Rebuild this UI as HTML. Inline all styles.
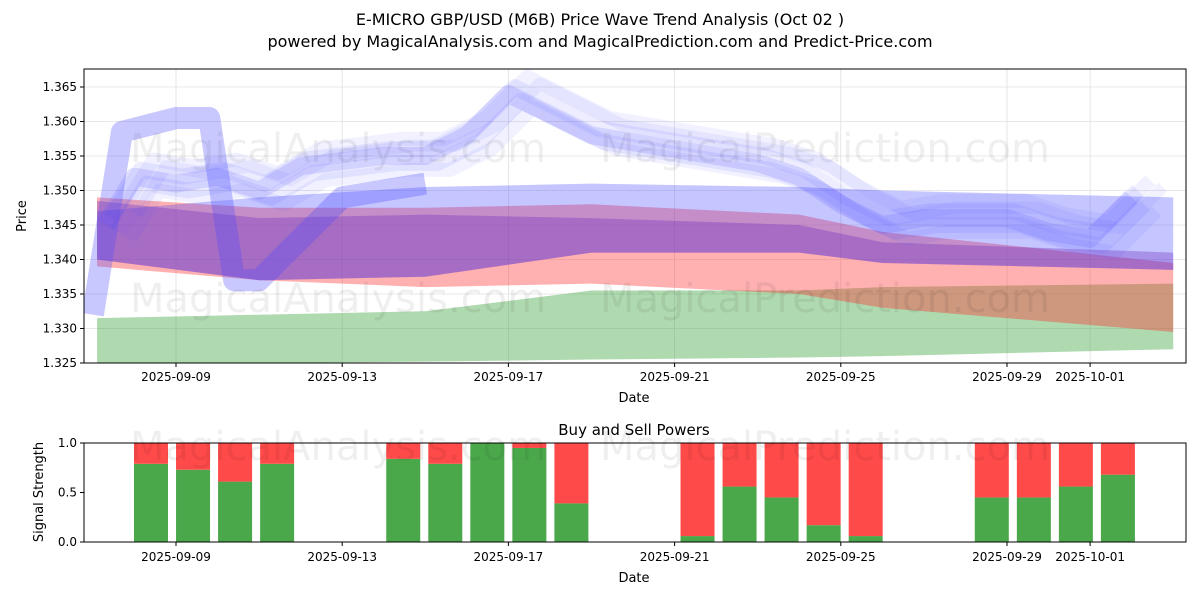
<!DOCTYPE html>
<html><head><meta charset="utf-8"><style>
body{margin:0;background:#fff;font-family:"Liberation Sans","DejaVu Sans",sans-serif}
svg text{font-family:"DejaVu Sans","Liberation Sans",sans-serif}
</style></head><body>
<svg id="s" width="1200" height="600" xmlns="http://www.w3.org/2000/svg">
<rect width="1200" height="600" fill="#fff"/>
<text x="600" y="25" text-anchor="middle" font-size="16">E-MICRO GBP/USD (M6B) Price Wave Trend Analysis (Oct 02 )</text>
<text x="600" y="47" text-anchor="middle" font-size="16">powered by MagicalAnalysis.com and MagicalPrediction.com and Predict-Price.com</text>
<defs><clipPath id="c1"><rect x="84" y="69" width="1102" height="294"/></clipPath>
<clipPath id="c2"><rect x="84" y="443" width="1102" height="99"/></clipPath></defs>
<g id="topg" clip-path="url(#c1)"></g>
<g id="botg" clip-path="url(#c2)"></g>
<g id="axg"></g>
<text x="130" y="162" font-size="40" fill="#000" opacity="0.06">MagicalAnalysis.com</text>
<text x="600" y="162" font-size="40" fill="#000" opacity="0.06">MagicalPrediction.com</text>
<text x="130" y="312" font-size="40" fill="#000" opacity="0.06">MagicalAnalysis.com</text>
<text x="600" y="312" font-size="40" fill="#000" opacity="0.06">MagicalPrediction.com</text>
<text x="130" y="460" font-size="40" fill="#000" opacity="0.06">MagicalAnalysis.com</text>
<text x="600" y="460" font-size="40" fill="#000" opacity="0.06">MagicalPrediction.com</text>
</svg>
<script>
const barDates=["2025-09-09","2025-09-10","2025-09-11","2025-09-12","2025-09-15","2025-09-16","2025-09-17","2025-09-18","2025-09-19","2025-09-22","2025-09-23","2025-09-24","2025-09-25","2025-09-26","2025-09-29","2025-09-30","2025-10-01","2025-10-02"];
const buyPower=[0.79,0.73,0.61,0.79,0.84,0.79,1.0,0.95,0.39,0.06,0.56,0.45,0.17,0.06,0.45,0.45,0.56,0.68];
const xTickLabels=["2025-09-09","2025-09-13","2025-09-17","2025-09-21","2025-09-25","2025-09-29","2025-10-01"];
const yTicks=[1.325,1.330,1.335,1.340,1.345,1.350,1.355,1.360,1.365];
const bTicks=[0,0.5,1.0];
const bandDays=[-1.9,2,6,10,15,17,24];
const greenUp=[1.3315,1.332,1.3325,1.3355,1.3355,1.336,1.3365];
const greenLo=[1.3240,1.3250,1.3252,1.3255,1.3258,1.326,1.327];
const redUp=[1.349,1.3475,1.3475,1.348,1.3465,1.344,1.3395];
const redLo=[1.339,1.337,1.336,1.3365,1.335,1.333,1.3295];
const purUp=[1.3485,1.346,1.3465,1.346,1.345,1.3425,1.341];
const purLo=[1.340,1.337,1.3375,1.341,1.341,1.3395,1.3385];
const bluUp=[1.347,1.349,1.3505,1.351,1.3505,1.350,1.349];
const waveDays=[-1.7,-1,0,1,2,3,5,6,7,8,9,10,12,14,15,16,17,18,20,21,22,23];
const wavePrice=[1.345,1.352,1.351,1.352,1.350,1.3535,1.355,1.355,1.358,1.364,1.361,1.358,1.356,1.354,1.352,1.348,1.345,1.346,1.346,1.344,1.343,1.349];
const NS="http://www.w3.org/2000/svg";
const d0=new Date("2025-09-09").getTime();
const dd=s=>(new Date(s).getTime()-d0)/864e5;
const X=d=>176+d*41.55;
const XB=d=>151+d*42.04;
const Y=p=>363-(p-1.325)/0.005*34.5;
const YB=v=>542-v*99;
function el(t,a,p){const e=document.createElementNS(NS,t);for(const k in a)e.setAttribute(k,a[k]);p.appendChild(e);return e;}
const topG=document.getElementById('topg'),botG=document.getElementById('botg'),axG=document.getElementById('axg');
yTicks.forEach(v=>{const g=el('line',{x1:84,x2:1186,y1:Y(v),y2:Y(v),stroke:'#e0e0e0','stroke-width':0.8},topG);

});
xTickLabels.forEach(s=>{const g=el('line',{x1:X(dd(s)),x2:X(dd(s)),y1:69,y2:363,stroke:'#e0e0e0','stroke-width':0.8},topG);

});
function band(up,lo,fill,op,name){
 const pts=bandDays.map((d,i)=>X(d)+','+Y(up[i])).concat(bandDays.map((d,i)=>X(d)+','+Y(lo[i])).reverse());
 const p=el('polygon',{points:pts.join(' '),fill:fill,'fill-opacity':op},topG);
 
 }
band(greenUp,greenLo,'#2e9a2e',0.38,'green-band');
band(redUp,redLo,'#ff3030',0.38,'red-band');
band(bluUp,purLo,'#4040ff',0.3,'blue-band');
band(purUp,purLo,'#7030c0',0.35,'purple-band');
const offs=[[0,0.16,18],[0.001,0.1,16],[-0.001,0.1,16],[0.0025,0.08,14],[-0.002,0.08,14],[0.0015,0.08,12]];
offs.forEach((o,k)=>{const pts=waveDays.map((d,i)=>X(d+k*0.15)+','+Y(wavePrice[i]+o[0]));
 const p=el('polyline',{points:pts.join(' '),fill:'none',stroke:'#4a4aff','stroke-opacity':o[1],'stroke-width':o[2],'stroke-linejoin':'round'},topG);
 
 });
const big=[[-2,1.332],[-1.3,1.3585],[0,1.3605],[0.8,1.3605],[1.4,1.337],[2,1.337],[4,1.349],[6,1.351]];
const bp=el('polyline',{points:big.map(a=>X(a[0])+','+Y(a[1])).join(' '),fill:'none',stroke:'#4a4aff','stroke-opacity':0.3,'stroke-width':22,'stroke-linejoin':'round'},topG);


[[84,69,1102,294],[84,443,1102,99]].forEach(r=>{const f=el('rect',{x:r[0],y:r[1],width:r[2],height:r[3],fill:'none',stroke:'#000','stroke-width':1},axG);

});
yTicks.forEach(v=>{el('line',{x1:80,x2:84,y1:Y(v),y2:Y(v),stroke:'#000'},axG);const t=el('text',{x:77,y:Y(v)+4,'text-anchor':'end','font-size':12},axG);t.textContent=v.toFixed(3);

});
xTickLabels.forEach(s=>{const x=X(dd(s));[[363,381],[542,561]].forEach(q=>{el('line',{x1:x,x2:x,y1:q[0],y2:q[0]+4,stroke:'#000'},axG);const t=el('text',{x:x,y:q[1],'text-anchor':'middle','font-size':12},axG);t.textContent=s;

});});
bTicks.forEach(v=>{el('line',{x1:80,x2:84,y1:YB(v),y2:YB(v),stroke:'#000'},axG);const t=el('text',{x:77,y:YB(v)+4,'text-anchor':'end','font-size':12},axG);t.textContent=v.toFixed(1);

});
function lab(x,y,s,name,rot){const t=el('text',{x:x,y:y,'text-anchor':'middle','font-size':13},axG);if(rot)t.setAttribute('transform','rotate(-90 '+x+' '+y+')');t.textContent=s;

}
lab(634,402,'Date','x-axis-title');lab(634,582,'Date','x-axis-title');
lab(26,216,'Price','y-axis-title',1);lab(43,492,'Signal Strength','y-axis-title',1);
const bt=el('text',{x:634,y:435,'text-anchor':'middle','font-size':15},axG);bt.textContent='Buy and Sell Powers';


barDates.forEach((s,i)=>{const x=XB(dd(s))-17;const v=buyPower[i];
 const g=el('rect',{x:x,y:YB(v),width:34,height:v*99,fill:'#4aa84a'},botG);
 
 
 const r=el('rect',{x:x,y:YB(1),width:34,height:(1-v)*99,fill:'#ff4a4a'},botG);
 
 });
</script>
</body></html>
